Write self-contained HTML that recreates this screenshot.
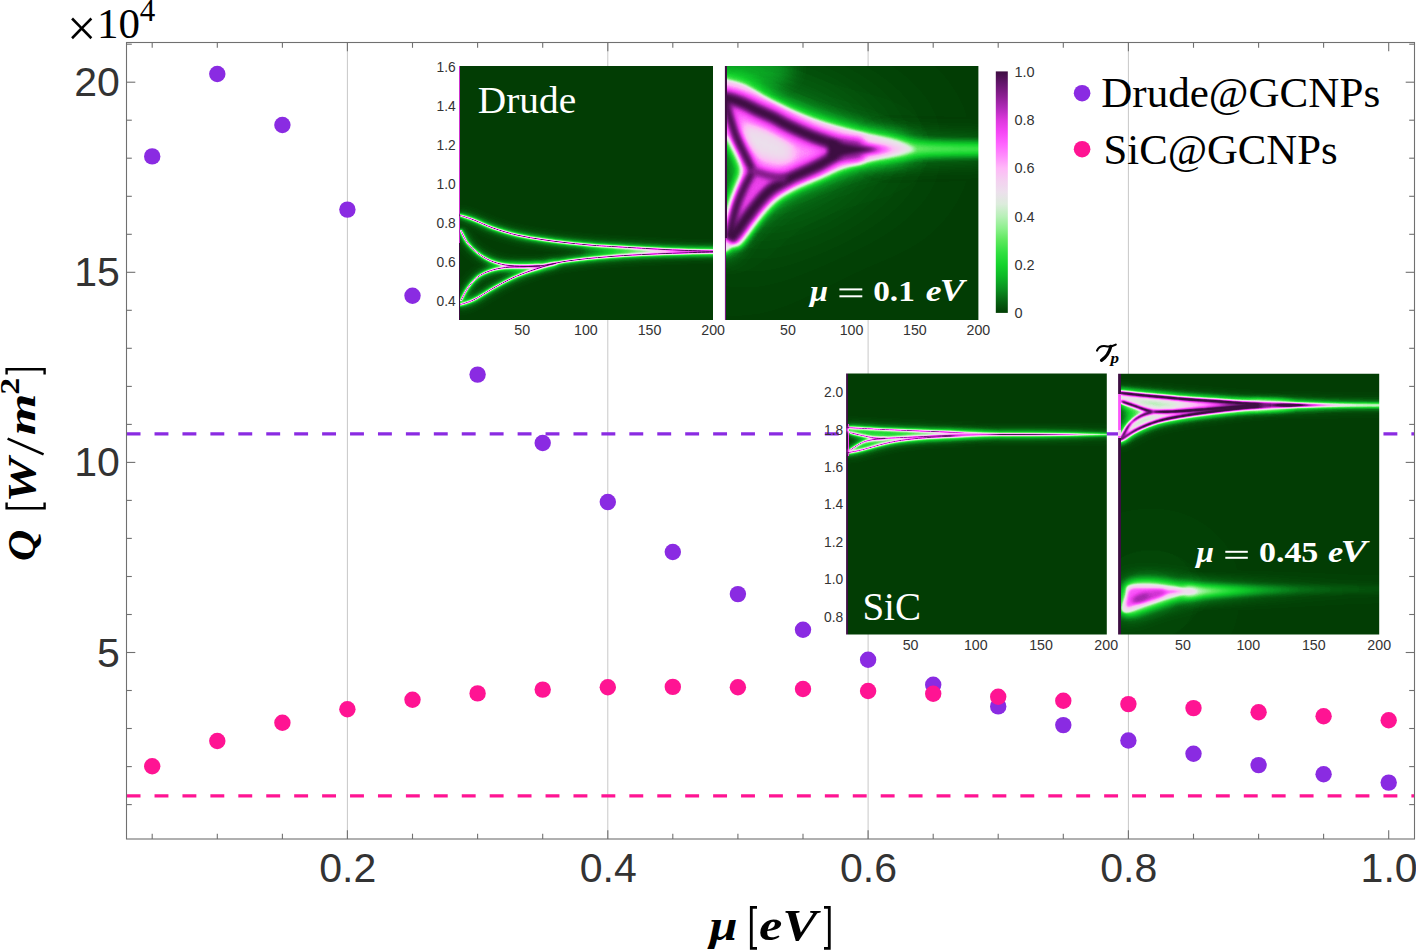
<!DOCTYPE html><html><head><meta charset="utf-8"><style>html,body{margin:0;padding:0;background:#fff;overflow:hidden}svg{display:block}.ts{font-family:"Liberation Sans",sans-serif;fill:#333}.sf{font-family:"Liberation Serif",serif}</style></head><body>
<svg width="1416" height="951" viewBox="0 0 1416 951">
<rect width="1416" height="951" fill="#fff"/>
<g stroke="#c8c8c8" stroke-width="1">
<line x1="347.4" y1="42.5" x2="347.4" y2="839.0"/>
<line x1="607.8" y1="42.5" x2="607.8" y2="839.0"/>
<line x1="868.1" y1="42.5" x2="868.1" y2="839.0"/>
<line x1="1128.4" y1="42.5" x2="1128.4" y2="839.0"/>
</g>
<line x1="126.6" y1="433.9" x2="1414.5" y2="433.9" stroke="#8a2be2" stroke-width="3.3" stroke-dasharray="13.9 14.03"/>
<line x1="126.6" y1="795.8" x2="1414.5" y2="795.8" stroke="#ff1493" stroke-width="3.3" stroke-dasharray="13.9 14.03"/>
<defs>
<filter id="cm" x="0" y="0" width="1" height="1" color-interpolation-filters="sRGB"><feComponentTransfer><feFuncR type="table" tableValues="0.008 0.024 0.039 0.047 0.078 0.188 0.361 0.549 0.722 0.863 0.925 0.957 1.000 1.000 1.000 0.961 0.863 0.690 0.541 0.392 0.243"/><feFuncG type="table" tableValues="0.243 0.392 0.569 0.722 0.831 0.878 0.910 0.941 0.941 0.925 0.878 0.816 0.722 0.549 0.392 0.275 0.220 0.165 0.118 0.086 0.055"/><feFuncB type="table" tableValues="0.016 0.071 0.125 0.149 0.173 0.251 0.361 0.549 0.722 0.863 0.925 0.941 0.973 0.988 1.000 0.961 0.863 0.722 0.565 0.424 0.259"/></feComponentTransfer></filter>
<filter id="ln" filterUnits="userSpaceOnUse" x="400" y="0" width="1016" height="700" color-interpolation-filters="sRGB"><feGaussianBlur in="SourceGraphic" stdDeviation="0.6" result="b0"/><feGaussianBlur in="SourceGraphic" stdDeviation="1.2" result="b1"/><feGaussianBlur in="SourceGraphic" stdDeviation="2.5" result="b2"/><feGaussianBlur in="SourceGraphic" stdDeviation="5.0" result="b3"/><feComposite in="b0" in2="b1" operator="arithmetic" k2="0.471" k3="1.1" result="s1"/><feComposite in="s1" in2="b2" operator="arithmetic" k2="1" k3="0.73" result="s2"/><feComposite in="s2" in2="b3" operator="arithmetic" k2="1" k3="0.798" result="s3"/></filter>
<filter id="rg" filterUnits="userSpaceOnUse" x="400" y="0" width="1016" height="700" color-interpolation-filters="sRGB"><feGaussianBlur in="SourceGraphic" stdDeviation="6" result="b0"/><feGaussianBlur in="SourceGraphic" stdDeviation="12" result="b1"/><feGaussianBlur in="SourceGraphic" stdDeviation="24" result="b2"/><feComposite in="b0" in2="b1" operator="arithmetic" k2="2.054" k3="1.067" result="s1"/><feComposite in="s1" in2="b2" operator="arithmetic" k2="1" k3="0.767" result="s2"/></filter>
<filter id="glow" filterUnits="userSpaceOnUse" x="400" y="0" width="1016" height="700" color-interpolation-filters="sRGB"><feGaussianBlur in="SourceGraphic" stdDeviation="1.5" result="b0"/><feGaussianBlur in="SourceGraphic" stdDeviation="4" result="b1"/><feGaussianBlur in="SourceGraphic" stdDeviation="10" result="b2"/><feGaussianBlur in="SourceGraphic" stdDeviation="25" result="b3"/><feGaussianBlur in="SourceGraphic" stdDeviation="50" result="b4"/><feComposite in="b0" in2="b1" operator="arithmetic" k2="0.165" k3="0.272" result="s1"/><feComposite in="s1" in2="b2" operator="arithmetic" k2="1" k3="0.368" result="s2"/><feComposite in="s2" in2="b3" operator="arithmetic" k2="1" k3="0.045" result="s3"/><feComposite in="s3" in2="b4" operator="arithmetic" k2="1" k3="0.14" result="s4"/></filter>
<filter id="rg4" filterUnits="userSpaceOnUse" x="400" y="0" width="1016" height="700" color-interpolation-filters="sRGB"><feGaussianBlur in="SourceGraphic" stdDeviation="3" result="b0"/><feGaussianBlur in="SourceGraphic" stdDeviation="6" result="b1"/><feGaussianBlur in="SourceGraphic" stdDeviation="12" result="b2"/><feComposite in="b0" in2="b1" operator="arithmetic" k2="2.127" k3="0.665" result="s1"/><feComposite in="s1" in2="b2" operator="arithmetic" k2="1" k3="0.874" result="s2"/></filter>
<filter id="rg5" filterUnits="userSpaceOnUse" x="400" y="0" width="1016" height="700" color-interpolation-filters="sRGB"><feGaussianBlur in="SourceGraphic" stdDeviation="1" result="b0"/><feGaussianBlur in="SourceGraphic" stdDeviation="2" result="b1"/><feGaussianBlur in="SourceGraphic" stdDeviation="3" result="b2"/><feGaussianBlur in="SourceGraphic" stdDeviation="8" result="b3"/><feComposite in="b0" in2="b1" operator="arithmetic" k2="0.1" k3="0.78" result="s1"/><feComposite in="s1" in2="b2" operator="arithmetic" k2="1" k3="2.93" result="s2"/><feComposite in="s2" in2="b3" operator="arithmetic" k2="1" k3="1.9" result="s3"/></filter>
<filter id="rg6" filterUnits="userSpaceOnUse" x="400" y="0" width="1016" height="700" color-interpolation-filters="sRGB"><feGaussianBlur in="SourceGraphic" stdDeviation="1.8" result="b0"/><feGaussianBlur in="SourceGraphic" stdDeviation="3" result="b1"/><feGaussianBlur in="SourceGraphic" stdDeviation="6" result="b2"/><feComposite in="b0" in2="b1" operator="arithmetic" k2="2.969" k3="1.995" result="s1"/><feComposite in="s1" in2="b2" operator="arithmetic" k2="1" k3="1.1" result="s2"/></filter>
<filter id="g0_5" filterUnits="userSpaceOnUse" x="400" y="0" width="1016" height="700" color-interpolation-filters="sRGB"><feGaussianBlur stdDeviation="0.5"/></filter>
<filter id="g1" filterUnits="userSpaceOnUse" x="400" y="0" width="1016" height="700" color-interpolation-filters="sRGB"><feGaussianBlur stdDeviation="1"/></filter>
<filter id="g1_5" filterUnits="userSpaceOnUse" x="400" y="0" width="1016" height="700" color-interpolation-filters="sRGB"><feGaussianBlur stdDeviation="1.5"/></filter>
<filter id="g2" filterUnits="userSpaceOnUse" x="400" y="0" width="1016" height="700" color-interpolation-filters="sRGB"><feGaussianBlur stdDeviation="2"/></filter>
<filter id="g2_5" filterUnits="userSpaceOnUse" x="400" y="0" width="1016" height="700" color-interpolation-filters="sRGB"><feGaussianBlur stdDeviation="2.5"/></filter>
<filter id="g3" filterUnits="userSpaceOnUse" x="400" y="0" width="1016" height="700" color-interpolation-filters="sRGB"><feGaussianBlur stdDeviation="3"/></filter>
<filter id="g4" filterUnits="userSpaceOnUse" x="400" y="0" width="1016" height="700" color-interpolation-filters="sRGB"><feGaussianBlur stdDeviation="4"/></filter>
<filter id="g5" filterUnits="userSpaceOnUse" x="400" y="0" width="1016" height="700" color-interpolation-filters="sRGB"><feGaussianBlur stdDeviation="5"/></filter>
<filter id="g6" filterUnits="userSpaceOnUse" x="400" y="0" width="1016" height="700" color-interpolation-filters="sRGB"><feGaussianBlur stdDeviation="6"/></filter>
<filter id="g8" filterUnits="userSpaceOnUse" x="400" y="0" width="1016" height="700" color-interpolation-filters="sRGB"><feGaussianBlur stdDeviation="8"/></filter>
<filter id="g10" filterUnits="userSpaceOnUse" x="400" y="0" width="1016" height="700" color-interpolation-filters="sRGB"><feGaussianBlur stdDeviation="10"/></filter>
<filter id="g12" filterUnits="userSpaceOnUse" x="400" y="0" width="1016" height="700" color-interpolation-filters="sRGB"><feGaussianBlur stdDeviation="12"/></filter>
<filter id="g14" filterUnits="userSpaceOnUse" x="400" y="0" width="1016" height="700" color-interpolation-filters="sRGB"><feGaussianBlur stdDeviation="14"/></filter>
<filter id="g18" filterUnits="userSpaceOnUse" x="400" y="0" width="1016" height="700" color-interpolation-filters="sRGB"><feGaussianBlur stdDeviation="18"/></filter>
<filter id="g24" filterUnits="userSpaceOnUse" x="400" y="0" width="1016" height="700" color-interpolation-filters="sRGB"><feGaussianBlur stdDeviation="24"/></filter>
<linearGradient id="cbg" x1="0" y1="1" x2="0" y2="0"><stop offset="0.00" stop-color="rgb(2,62,4)"/><stop offset="0.05" stop-color="rgb(6,100,18)"/><stop offset="0.10" stop-color="rgb(10,145,32)"/><stop offset="0.15" stop-color="rgb(12,184,38)"/><stop offset="0.20" stop-color="rgb(20,212,44)"/><stop offset="0.25" stop-color="rgb(48,224,64)"/><stop offset="0.30" stop-color="rgb(92,232,92)"/><stop offset="0.35" stop-color="rgb(140,240,140)"/><stop offset="0.40" stop-color="rgb(184,240,184)"/><stop offset="0.45" stop-color="rgb(220,236,220)"/><stop offset="0.50" stop-color="rgb(236,224,236)"/><stop offset="0.55" stop-color="rgb(244,208,240)"/><stop offset="0.60" stop-color="rgb(255,184,248)"/><stop offset="0.65" stop-color="rgb(255,140,252)"/><stop offset="0.70" stop-color="rgb(255,100,255)"/><stop offset="0.75" stop-color="rgb(245,70,245)"/><stop offset="0.80" stop-color="rgb(220,56,220)"/><stop offset="0.85" stop-color="rgb(176,42,184)"/><stop offset="0.90" stop-color="rgb(138,30,144)"/><stop offset="0.95" stop-color="rgb(100,22,108)"/><stop offset="1.00" stop-color="rgb(62,14,66)"/></linearGradient>
<clipPath id="cp1"><rect x="459.0" y="65.9" width="254.1" height="254.2"/></clipPath>
<clipPath id="cp2"><rect x="724.9" y="65.9" width="253.5" height="254.1"/></clipPath>
<clipPath id="cp3"><rect x="846.1" y="373.5" width="260.7" height="260.9"/></clipPath>
<clipPath id="cp4"><rect x="1118.1" y="373.8" width="261.1" height="260.6"/></clipPath>
</defs>
<g clip-path="url(#cp1)"><g filter="url(#cm)"><rect x="458.0" y="64.9" width="256.1" height="256.2" fill="#000"/>
<rect x="458" y="60" width="2" height="183" fill="rgb(209,209,209)"/>
<rect x="458" y="243" width="2" height="80" fill="rgb(255,255,255)"/>
<linearGradient id="p1f" gradientUnits="userSpaceOnUse" x1="540" y1="0" x2="713" y2="0"><stop offset="0.000" stop-color="#fff" stop-opacity="0.0"/><stop offset="0.220" stop-color="#fff" stop-opacity="0.0"/><stop offset="0.405" stop-color="#fff" stop-opacity="0.1"/><stop offset="0.578" stop-color="#fff" stop-opacity="0.2"/><stop offset="0.723" stop-color="#fff" stop-opacity="0.36"/><stop offset="0.867" stop-color="#fff" stop-opacity="0.55"/><stop offset="1.000" stop-color="#fff" stop-opacity="0.75"/></linearGradient>
<path d="M543.0,239.7 C547.3,240.2 560.5,242.1 569.0,243.0 C577.5,243.9 586.3,244.8 594.0,245.4 C601.7,246.0 605.7,246.1 615.0,246.7 C624.3,247.2 639.2,248.1 650.0,248.7 C660.8,249.3 669.5,249.8 680.0,250.2 C690.5,250.6 704.7,251.1 713.0,251.3 C721.3,251.5 727.2,251.6 730.0,251.6 L730.0,251.8 C727.2,251.8 721.3,251.8 713.0,252.0 C704.7,252.2 690.5,252.6 680.0,253.0 C669.5,253.4 660.8,253.7 650.0,254.2 C639.2,254.7 626.5,255.3 615.0,256.2 C603.5,257.1 590.8,258.1 581.0,259.3 C571.2,260.5 560.2,262.5 556.0,263.1Z" fill="url(#p1f)" filter="url(#g1)"/>
<path d="M459.0,215.0 C461.5,215.8 468.3,217.8 474.0,220.0 C479.7,222.2 485.7,225.4 493.0,228.0 C500.3,230.6 509.7,233.4 518.0,235.3 C526.3,237.2 534.5,238.4 543.0,239.7 C551.5,241.0 560.5,242.1 569.0,243.0 C577.5,243.9 586.3,244.8 594.0,245.4 C601.7,246.0 605.7,246.1 615.0,246.7 C624.3,247.2 639.2,248.1 650.0,248.7 C660.8,249.3 669.5,249.8 680.0,250.2 C690.5,250.6 704.7,251.1 713.0,251.3 C721.3,251.5 727.2,251.6 730.0,251.6" fill="none" stroke="rgb(255,255,255)" stroke-width="0.98" filter="url(#ln)"/>
<path d="M459.0,305.0 C461.5,304.1 468.3,302.5 474.0,299.7 C479.7,296.9 486.7,291.9 493.0,288.3 C499.3,284.7 505.7,281.1 512.0,278.2 C518.3,275.3 523.7,273.2 531.0,270.7 C538.3,268.2 547.7,265.0 556.0,263.1 C564.3,261.2 571.2,260.5 581.0,259.3 C590.8,258.1 603.5,257.1 615.0,256.2 C626.5,255.3 639.2,254.7 650.0,254.2 C660.8,253.7 669.5,253.4 680.0,253.0 C690.5,252.6 704.7,252.2 713.0,252.0 C721.3,251.8 727.2,251.8 730.0,251.8" fill="none" stroke="rgb(255,255,255)" stroke-width="0.98" filter="url(#ln)"/>
<path d="M460.5,230.0 C461.7,232.2 464.7,239.2 467.6,243.0 C470.5,246.8 473.9,250.1 477.7,253.0 C481.5,255.9 485.7,258.6 490.3,260.6 C494.9,262.6 499.9,264.1 505.5,265.0 C511.1,265.9 518.2,266.2 524.0,266.3 C529.8,266.4 534.7,266.3 540.0,265.8 C545.3,265.3 553.3,263.7 556.0,263.3" fill="none" stroke="rgb(255,255,255)" stroke-width="0.98" filter="url(#ln)"/>
<path d="M460.7,301.0 C461.9,298.9 464.8,292.3 467.6,288.3 C470.4,284.3 473.9,279.9 477.7,277.0 C481.5,274.1 485.7,272.3 490.3,270.7 C494.9,269.1 499.9,268.2 505.5,267.5 C511.1,266.8 518.2,266.9 524.0,266.7 C529.8,266.4 537.3,266.1 540.0,266.0" fill="none" stroke="rgb(255,255,255)" stroke-width="0.98" filter="url(#ln)"/>
</g></g>
<g clip-path="url(#cp2)"><g filter="url(#cm)"><rect x="723.9" y="64.9" width="255.5" height="256.1" fill="#000"/>
<path d="M718.0,81.0 C719.9,73.1 725.1,80.9 729.4,81.7 C733.7,82.5 739.1,83.9 744.0,86.1 C748.9,88.3 753.9,92.0 758.8,94.9 C763.7,97.8 768.3,100.9 773.5,103.7 C778.7,106.5 783.1,108.6 790.0,111.5 C796.9,114.4 806.6,118.2 815.0,121.0 C823.4,123.8 832.2,126.2 840.5,128.5 C848.8,130.8 856.8,132.7 865.0,134.5 C873.2,136.3 883.5,137.9 890.0,139.5 C896.5,141.1 900.0,142.4 904.0,144.0 C908.0,145.6 912.3,148.0 914.0,149.0 C915.7,150.0 915.7,149.3 914.0,150.0 C912.3,150.7 908.0,152.0 904.0,153.0 C900.0,154.0 896.5,154.9 890.0,156.2 C883.5,157.5 873.2,159.2 865.0,161.0 C856.8,162.8 848.0,164.7 840.5,167.1 C833.0,169.5 827.3,172.5 820.0,175.2 C812.7,177.9 803.8,180.2 796.8,183.4 C789.8,186.6 784.2,189.8 777.9,194.2 C771.6,198.6 764.7,204.4 758.9,210.0 C753.1,215.6 747.3,222.5 743.0,228.0 C738.7,233.5 735.7,239.3 733.0,243.0 C730.3,246.7 729.5,248.5 727.0,250.0 C724.5,251.5 719.5,255.3 718.0,252.0 C716.5,248.7 716.5,233.8 718.0,230.0 C719.5,226.2 724.8,231.3 727.0,229.0 C729.2,226.7 729.7,220.7 731.0,216.0 C732.3,211.3 733.5,206.0 735.0,201.0 C736.5,196.0 738.5,190.8 740.0,186.0 C741.5,181.2 743.8,176.7 744.0,172.0 C744.2,167.3 742.8,162.3 741.5,158.0 C740.2,153.7 737.9,149.7 736.0,146.0 C734.1,142.3 733.0,138.8 730.0,136.0 C727.0,133.2 720.0,138.2 718.0,129.0 C716.0,119.8 716.1,88.9 718.0,81.0Z" fill="#fff" filter="url(#glow)"/>
<ellipse cx="750" cy="70" rx="45" ry="16" fill="#fff" fill-opacity="0.1" filter="url(#g10)"/>
<path d="M880,142 C920,144.5 950,145 990,145 L990,153 C950,153 920,153 880,156Z" fill="rgb(82,82,82)" filter="url(#g4)"/>
<path d="M880,143 C920,146 950,146 990,146 L990,152 C950,152 920,152 880,155Z" fill="rgb(76,76,76)" filter="url(#g12)"/>
<path d="M890,144 C920,146 950,146 990,146 L990,152 C950,152 920,152 890,154Z" fill="#fff" fill-opacity="0.12" filter="url(#g6)"/>
<path d="M718.0,81.0 C719.9,73.1 725.1,80.9 729.4,81.7 C733.7,82.5 739.1,83.9 744.0,86.1 C748.9,88.3 753.9,92.0 758.8,94.9 C763.7,97.8 768.3,100.9 773.5,103.7 C778.7,106.5 783.1,108.6 790.0,111.5 C796.9,114.4 806.6,118.2 815.0,121.0 C823.4,123.8 832.2,126.2 840.5,128.5 C848.8,130.8 856.8,132.7 865.0,134.5 C873.2,136.3 883.5,137.9 890.0,139.5 C896.5,141.1 900.0,142.4 904.0,144.0 C908.0,145.6 912.3,148.0 914.0,149.0 C915.7,150.0 915.7,149.3 914.0,150.0 C912.3,150.7 908.0,152.0 904.0,153.0 C900.0,154.0 896.5,154.9 890.0,156.2 C883.5,157.5 873.2,159.2 865.0,161.0 C856.8,162.8 848.0,164.7 840.5,167.1 C833.0,169.5 827.3,172.5 820.0,175.2 C812.7,177.9 803.8,180.2 796.8,183.4 C789.8,186.6 784.2,189.8 777.9,194.2 C771.6,198.6 764.7,204.4 758.9,210.0 C753.1,215.6 747.3,222.5 743.0,228.0 C738.7,233.5 735.7,239.3 733.0,243.0 C730.3,246.7 729.5,248.5 727.0,250.0 C724.5,251.5 719.5,255.3 718.0,252.0 C716.5,248.7 716.5,233.8 718.0,230.0 C719.5,226.2 724.8,231.3 727.0,229.0 C729.2,226.7 729.7,220.7 731.0,216.0 C732.3,211.3 733.5,206.0 735.0,201.0 C736.5,196.0 738.5,190.8 740.0,186.0 C741.5,181.2 743.8,176.7 744.0,172.0 C744.2,167.3 742.8,162.3 741.5,158.0 C740.2,153.7 737.9,149.7 736.0,146.0 C734.1,142.3 733.0,138.8 730.0,136.0 C727.0,133.2 720.0,138.2 718.0,129.0 C716.0,119.8 716.1,88.9 718.0,81.0Z" fill="rgb(128,128,128)" filter="url(#g2)"/>
<path d="M718.0,97.0 C719.2,97.3 725.1,97.5 729.4,98.6 C733.7,99.7 739.1,101.6 744.0,103.7 C748.9,105.8 753.9,108.8 758.8,111.1 C763.7,113.4 768.3,115.1 773.5,117.7 C778.7,120.3 783.1,123.2 790.0,126.5 C796.9,129.8 806.7,134.3 815.0,137.5 C823.3,140.7 832.2,143.5 840.0,145.5 C847.8,147.5 858.3,148.8 862.0,149.5 C865.7,150.2 865.7,149.2 862.0,150.0 C858.3,150.8 847.0,151.6 840.0,154.0 C833.0,156.4 825.1,161.9 820.0,164.5 C814.9,167.1 814.3,167.2 809.4,169.5 C804.5,171.8 796.8,174.8 790.5,178.0 C784.2,181.2 772.2,188.8 771.5,189.0 C770.8,189.2 786.2,181.2 786.0,179.0 C785.8,176.8 775.5,177.3 770.0,176.0 C764.5,174.7 755.8,171.8 753.0,171.0 C750.2,170.2 754.4,173.8 753.0,171.0 C751.6,168.2 747.3,159.8 744.5,154.0 C741.7,148.2 738.4,142.0 736.0,136.0 C733.6,130.0 731.7,123.3 730.0,118.0 C728.3,112.7 727.3,107.5 726.0,104.0 C724.7,100.5 723.3,98.2 722.0,97.0 C720.7,95.8 716.8,96.7 718.0,97.0Z" fill="rgb(168,168,168)" filter="url(#g5)" />
<path d="M753.0,171.0 C751.5,173.8 746.7,182.3 744.0,188.0 C741.3,193.7 738.9,199.3 737.0,205.0 C735.1,210.7 733.7,216.5 732.5,222.0 C731.3,227.5 728.9,236.5 729.6,238.0 C730.4,239.5 734.1,234.5 737.0,231.0 C739.9,227.5 743.2,222.0 747.0,217.0 C750.8,212.0 755.4,205.7 759.5,201.0 C763.6,196.3 767.1,192.7 771.5,189.0 C775.9,185.3 786.2,181.2 786.0,179.0 C785.8,176.8 775.5,177.3 770.0,176.0 C764.5,174.7 755.8,171.8 753.0,171.0 C750.2,170.2 754.5,168.2 753.0,171.0Z" fill="rgb(194,194,194)" filter="url(#g4)" />
<ellipse cx="765" cy="144" rx="32" ry="14" transform="rotate(24 765 144)" fill="rgb(128,128,128)" filter="url(#g6)"/>
<ellipse cx="743" cy="210" rx="4" ry="12" transform="rotate(30 743 210)" fill="rgb(178,178,178)" filter="url(#g4)"/>
<path d="M718.0,97.0 C719.9,97.3 725.1,97.5 729.4,98.6 C733.7,99.7 739.1,101.6 744.0,103.7 C748.9,105.8 753.9,108.8 758.8,111.1 C763.7,113.4 768.3,115.1 773.5,117.7 C778.7,120.3 783.1,123.2 790.0,126.5 C796.9,129.8 806.7,134.3 815.0,137.5 C823.3,140.7 832.2,143.5 840.0,145.5 C847.8,147.5 858.3,148.8 862.0,149.5" fill="none" stroke="rgb(166,166,166)" stroke-width="24" filter="url(#g3)"/>
<path d="M729.6,240.0 C730.8,238.5 734.1,234.8 737.0,231.0 C739.9,227.2 743.2,222.0 747.0,217.0 C750.8,212.0 755.4,205.7 759.5,201.0 C763.6,196.3 766.3,192.8 771.5,189.0 C776.7,185.2 784.2,181.2 790.5,178.0 C796.8,174.8 804.5,171.8 809.4,169.5 C814.3,167.2 814.9,167.1 820.0,164.5 C825.1,161.9 833.0,156.4 840.0,154.0 C847.0,151.6 858.3,150.7 862.0,150.0" fill="none" stroke="rgb(166,166,166)" stroke-width="16" filter="url(#g3)"/>
<path d="M718.0,97.0 C719.9,97.3 725.1,97.5 729.4,98.6 C733.7,99.7 739.1,101.6 744.0,103.7 C748.9,105.8 753.9,108.8 758.8,111.1 C763.7,113.4 768.3,115.1 773.5,117.7 C778.7,120.3 783.1,123.2 790.0,126.5 C796.9,129.8 806.7,134.3 815.0,137.5 C823.3,140.7 832.2,143.5 840.0,145.5 C847.8,147.5 858.3,148.8 862.0,149.5" fill="none" stroke="rgb(204,204,204)" stroke-width="20" filter="url(#g4)"/>
<path d="M729.6,240.0 C730.8,238.5 734.1,234.8 737.0,231.0 C739.9,227.2 743.2,222.0 747.0,217.0 C750.8,212.0 755.4,205.7 759.5,201.0 C763.6,196.3 766.3,192.8 771.5,189.0 C776.7,185.2 784.2,181.2 790.5,178.0 C796.8,174.8 804.5,171.8 809.4,169.5 C814.3,167.2 814.9,167.1 820.0,164.5 C825.1,161.9 833.0,156.4 840.0,154.0 C847.0,151.6 858.3,150.7 862.0,150.0" fill="none" stroke="rgb(204,204,204)" stroke-width="19" filter="url(#g4)"/>
<path d="M722.0,97.0 C722.7,98.2 724.7,100.5 726.0,104.0 C727.3,107.5 728.3,112.7 730.0,118.0 C731.7,123.3 733.6,130.0 736.0,136.0 C738.4,142.0 741.7,148.2 744.5,154.0 C747.3,159.8 751.6,168.2 753.0,171.0" fill="none" stroke="rgb(204,204,204)" stroke-width="13" filter="url(#g4)"/>
<path d="M753.0,171.0 C751.5,173.8 746.7,182.3 744.0,188.0 C741.3,193.7 738.9,199.3 737.0,205.0 C735.1,210.7 733.7,216.5 732.5,222.0 C731.3,227.5 730.1,235.3 729.6,238.0" fill="none" stroke="rgb(204,204,204)" stroke-width="13" filter="url(#g4)"/>
<path d="M753.0,171.0 C755.8,171.8 764.5,174.7 770.0,176.0 C775.5,177.3 783.3,178.5 786.0,179.0" fill="none" stroke="rgb(204,204,204)" stroke-width="12" filter="url(#g4)"/>
<path d="M718.0,97.0 C719.9,97.3 725.1,97.5 729.4,98.6 C733.7,99.7 739.1,101.6 744.0,103.7 C748.9,105.8 753.9,108.8 758.8,111.1 C763.7,113.4 768.3,115.1 773.5,117.7 C778.7,120.3 783.1,123.2 790.0,126.5 C796.9,129.8 806.7,134.3 815.0,137.5 C823.3,140.7 832.2,143.5 840.0,145.5 C847.8,147.5 858.3,148.8 862.0,149.5" fill="none" stroke="rgb(255,255,255)" stroke-width="11" filter="url(#g2_5)"/>
<path d="M729.6,240.0 C730.8,238.5 734.1,234.8 737.0,231.0 C739.9,227.2 743.2,222.0 747.0,217.0 C750.8,212.0 755.4,205.7 759.5,201.0 C763.6,196.3 766.3,192.8 771.5,189.0 C776.7,185.2 784.2,181.2 790.5,178.0 C796.8,174.8 804.5,171.8 809.4,169.5 C814.3,167.2 814.9,167.1 820.0,164.5 C825.1,161.9 833.0,156.4 840.0,154.0 C847.0,151.6 858.3,150.7 862.0,150.0" fill="none" stroke="rgb(255,255,255)" stroke-width="11" filter="url(#g2_5)"/>
<path d="M722.0,97.0 C722.7,98.2 724.7,100.5 726.0,104.0 C727.3,107.5 728.3,112.7 730.0,118.0 C731.7,123.3 733.6,130.0 736.0,136.0 C738.4,142.0 741.7,148.2 744.5,154.0 C747.3,159.8 751.6,168.2 753.0,171.0" fill="none" stroke="rgb(255,255,255)" stroke-width="7.5" filter="url(#g2_5)"/>
<path d="M753.0,171.0 C751.5,173.8 746.7,182.3 744.0,188.0 C741.3,193.7 738.9,199.3 737.0,205.0 C735.1,210.7 733.7,216.5 732.5,222.0 C731.3,227.5 730.1,235.3 729.6,238.0" fill="none" stroke="rgb(255,255,255)" stroke-width="7.5" filter="url(#g2_5)"/>
<path d="M753.0,171.0 C755.8,171.8 764.5,174.7 770.0,176.0 C775.5,177.3 783.3,178.5 786.0,179.0" fill="none" stroke="rgb(235,235,235)" stroke-width="7" filter="url(#g2_5)"/>
<path d="M860,141 L905,149.5 L860,157Z" fill="rgb(173,173,173)" filter="url(#g3)"/>
<path d="M840,139 L892,149.5 L840,160Z" fill="rgb(209,209,209)" filter="url(#g3)"/>
<path d="M828,140 L880,149.5 L828,159Z" fill="rgb(255,255,255)" filter="url(#g2)"/>
<rect x="724" y="60" width="3" height="178" fill="rgb(255,255,255)"/>
<rect x="724" y="238" width="2" height="90" fill="rgb(235,235,235)"/>
</g></g>
<g clip-path="url(#cp3)"><g filter="url(#cm)"><rect x="845.1" y="372.5" width="262.7" height="262.9" fill="#000"/>
<rect x="845" y="370" width="3.0" height="270" fill="rgb(255,255,255)"/>
<rect x="848" y="424" width="1" height="32" fill="rgb(191,191,191)"/>
<path d="M849.0,427.7 C852.5,427.2 864.0,428.5 870.0,428.8 C876.0,429.1 875.1,429.2 885.2,429.6 C895.3,430.0 917.2,430.9 930.4,431.4 C943.6,431.9 952.7,432.4 964.3,432.8 C975.9,433.2 994.0,433.7 1000.0,434.0 C1006.0,434.3 1007.8,434.2 1000.0,434.4 C992.2,434.6 968.4,434.8 953.0,435.3 C937.6,435.8 919.7,436.8 907.8,437.3 C895.9,437.8 887.4,438.4 881.8,438.5 C876.1,438.6 877.1,438.4 873.9,437.9 C870.7,437.4 866.5,436.5 862.6,435.6 C858.7,434.8 853.0,433.5 850.7,432.8 C848.4,432.1 849.3,432.4 849.0,431.5 C848.7,430.6 845.5,428.1 849.0,427.7Z" fill="rgb(26,26,26)" filter="url(#g1_5)" />
<path d="M849.0,450.5 C849.3,450.0 848.4,451.1 850.7,449.7 C853.0,448.3 858.7,444.1 862.6,442.4 C866.5,440.7 870.1,440.2 873.9,439.5 C877.7,438.8 879.6,438.8 885.2,438.4 C890.9,438.0 896.5,437.8 907.8,437.3 C919.1,436.8 937.6,435.8 953.0,435.3 C968.4,434.8 1001.9,434.2 1000.0,434.4 C998.1,434.6 957.1,435.8 941.7,436.7 C926.3,437.6 917.2,438.4 907.8,439.5 C898.4,440.6 892.7,441.8 885.2,443.5 C877.7,445.2 868.6,448.2 862.6,449.7 C856.6,451.2 851.3,452.4 849.0,452.5 C846.7,452.6 848.7,451.0 849.0,450.5Z" fill="rgb(23,23,23)" filter="url(#g1_5)" />
<linearGradient id="m3g" gradientUnits="userSpaceOnUse" x1="950" y1="0" x2="1000" y2="0"><stop offset="0" stop-color="#fff"/><stop offset="1" stop-color="#000"/></linearGradient>
<mask id="m3" maskUnits="userSpaceOnUse" x="800" y="360" width="340" height="290"><rect x="800" y="360" width="340" height="290" fill="url(#m3g)"/></mask>
<g mask="url(#m3)">
<path d="M846.0,427.5 C846.5,427.5 845.0,427.5 849.0,427.7 C853.0,427.9 864.0,428.5 870.0,428.8 C876.0,429.1 875.1,429.2 885.2,429.6 C895.3,430.0 917.2,430.9 930.4,431.4 C943.6,431.9 952.7,432.4 964.3,432.8 C975.9,433.2 990.7,433.8 1000.0,434.0 C1009.3,434.2 1016.7,434.2 1020.0,434.2" fill="none" stroke="rgb(255,255,255)" stroke-width="0.9" filter="url(#ln)"/>
<path d="M846.0,453.0 C846.5,452.9 846.2,453.1 849.0,452.5 C851.8,451.9 856.6,451.2 862.6,449.7 C868.6,448.2 877.7,445.2 885.2,443.5 C892.7,441.8 898.4,440.6 907.8,439.5 C917.2,438.4 926.3,437.5 941.7,436.7 C957.1,435.9 987.0,435.0 1000.0,434.6 C1013.0,434.2 1016.7,434.5 1020.0,434.5" fill="none" stroke="rgb(255,255,255)" stroke-width="0.9" filter="url(#ln)"/>
<path d="M849.0,431.5 C849.3,431.7 848.4,432.1 850.7,432.8 C853.0,433.5 858.7,434.8 862.6,435.6 C866.5,436.5 870.7,437.4 873.9,437.9 C877.1,438.4 880.5,438.5 881.8,438.6" fill="none" stroke="rgb(255,255,255)" stroke-width="0.9" filter="url(#ln)"/>
<path d="M849.0,450.5 C849.3,450.4 848.4,451.1 850.7,449.7 C853.0,448.3 858.7,444.1 862.6,442.4 C866.5,440.7 870.1,440.2 873.9,439.5 C877.7,438.8 883.3,438.6 885.2,438.4" fill="none" stroke="rgb(255,255,255)" stroke-width="0.9" filter="url(#ln)"/>
<path d="M881.8,438.5 C886.1,438.3 895.9,437.8 907.8,437.3 C919.7,436.8 937.6,435.8 953.0,435.3 C968.4,434.8 988.8,434.5 1000.0,434.4 C1011.2,434.2 1016.7,434.4 1020.0,434.4" fill="none" stroke="rgb(255,255,255)" stroke-width="0.9" filter="url(#ln)"/>
</g>
<linearGradient id="p3g" gradientUnits="userSpaceOnUse" x1="950" y1="0" x2="1107" y2="0"><stop offset="0" stop-color="#fff" stop-opacity="0"/><stop offset="0.318" stop-color="#fff" stop-opacity="0.8"/><stop offset="0.541" stop-color="#fff" stop-opacity="0.77"/><stop offset="0.669" stop-color="#fff" stop-opacity="0.67"/><stop offset="0.764" stop-color="#fff" stop-opacity="0.57"/><stop offset="0.86" stop-color="#fff" stop-opacity="0.42"/><stop offset="0.955" stop-color="#fff" stop-opacity="0.32"/><stop offset="1" stop-color="#fff" stop-opacity="0.29"/></linearGradient>
<path d="M950,434.4 L1115,434.4" stroke="url(#p3g)" stroke-width="1.5" fill="none" filter="url(#ln)"/>
</g></g>
<g clip-path="url(#cp4)"><g filter="url(#cm)"><rect x="1117.1" y="372.8" width="263.1" height="262.6" fill="#000"/>
<path d="M1116.0,392.5 C1117.1,384.7 1118.4,392.7 1122.4,393.1 C1126.4,393.5 1132.8,394.3 1140.0,395.0 C1147.2,395.7 1157.1,396.6 1165.4,397.3 C1173.7,398.1 1181.6,398.9 1190.0,399.5 C1198.4,400.1 1205.9,400.5 1216.0,401.2 C1226.1,401.9 1240.8,403.2 1250.6,403.8 C1260.4,404.4 1266.8,404.6 1275.0,404.8 C1283.2,405.1 1300.0,405.1 1300.0,405.3 C1300.0,405.5 1283.2,405.6 1275.0,405.9 C1266.8,406.2 1260.4,406.3 1250.6,407.2 C1240.8,408.1 1226.7,409.8 1216.0,411.1 C1205.3,412.5 1196.2,413.7 1186.6,415.3 C1177.0,416.9 1166.6,418.6 1158.4,421.0 C1150.2,423.4 1143.2,426.5 1137.2,429.4 C1131.2,432.3 1125.9,436.8 1122.4,438.6 C1118.9,440.4 1117.1,447.7 1116.0,440.0 C1114.9,432.3 1114.9,400.3 1116.0,392.5Z" fill="#fff" fill-opacity="0.09" filter="url(#glow)"/>
<linearGradient id="p4u" gradientUnits="userSpaceOnUse" x1="1125" y1="0" x2="1245" y2="0"><stop offset="0" stop-color="#fff" stop-opacity="0.3"/><stop offset="0.4" stop-color="#fff" stop-opacity="0.33"/><stop offset="0.7" stop-color="#fff" stop-opacity="0.5"/><stop offset="1" stop-color="#fff" stop-opacity="0.8"/></linearGradient>
<path d="M1122.4,393.1 C1125.7,392.1 1132.8,394.3 1140.0,395.0 C1147.2,395.7 1157.1,396.6 1165.4,397.3 C1173.7,398.1 1181.6,398.9 1190.0,399.5 C1198.4,400.1 1205.9,400.5 1216.0,401.2 C1226.1,401.9 1242.9,403.1 1250.6,403.8 C1258.3,404.5 1263.8,405.1 1262.0,405.6 C1260.2,406.1 1247.7,406.1 1240.0,406.6 C1232.3,407.1 1223.7,408.0 1216.0,408.6 C1208.3,409.2 1201.0,409.7 1193.7,410.2 C1186.5,410.7 1179.3,411.3 1172.5,411.6 C1165.7,411.9 1157.1,412.1 1152.7,411.8 C1148.3,411.5 1148.6,410.8 1146.0,410.0 C1143.4,409.2 1141.0,408.2 1137.2,406.8 C1133.4,405.4 1125.9,402.9 1123.0,401.9 C1120.1,400.9 1120.1,402.5 1120.0,401.0 C1119.9,399.5 1119.1,394.1 1122.4,393.1Z" fill="url(#p4u)" filter="url(#g1_5)"/>
<path d="M1120.0,438.0 C1120.0,437.6 1120.7,438.9 1122.4,436.5 C1124.1,434.1 1127.0,427.2 1130.1,423.8 C1133.1,420.4 1136.9,418.0 1140.7,416.0 C1144.5,414.0 1147.4,412.5 1152.7,411.8 C1158.0,411.1 1165.7,411.9 1172.5,411.6 C1179.3,411.3 1186.5,410.7 1193.7,410.2 C1201.0,409.7 1208.3,409.2 1216.0,408.6 C1223.7,408.0 1232.3,407.1 1240.0,406.6 C1247.7,406.1 1260.2,405.5 1262.0,405.6 C1263.8,405.7 1258.3,406.3 1250.6,407.2 C1242.9,408.1 1226.7,409.8 1216.0,411.1 C1205.3,412.5 1196.2,413.7 1186.6,415.3 C1177.0,416.9 1166.6,418.6 1158.4,421.0 C1150.2,423.4 1143.2,426.5 1137.2,429.4 C1131.2,432.3 1125.3,437.2 1122.4,438.6 C1119.5,440.0 1120.0,438.4 1120.0,438.0Z" fill="rgb(76,76,76)" filter="url(#g1_5)" />
<path d="M1126,404 L1150,411.8 L1126,420Z" fill="rgb(41,41,41)" filter="url(#g2_5)"/>
<linearGradient id="m4g" gradientUnits="userSpaceOnUse" x1="1258" y1="0" x2="1298" y2="0"><stop offset="0" stop-color="#fff"/><stop offset="1" stop-color="#000"/></linearGradient>
<mask id="m4" maskUnits="userSpaceOnUse" x="1100" y="360" width="300" height="290"><rect x="1100" y="360" width="300" height="290" fill="url(#m4g)"/></mask>
<g mask="url(#m4)">
<path d="M1116.0,392.5 C1117.1,392.6 1118.4,392.7 1122.4,393.1 C1126.4,393.5 1132.8,394.3 1140.0,395.0 C1147.2,395.7 1157.1,396.6 1165.4,397.3 C1173.7,398.1 1181.6,398.9 1190.0,399.5 C1198.4,400.1 1205.9,400.5 1216.0,401.2 C1226.1,401.9 1240.8,403.2 1250.6,403.8 C1260.4,404.4 1267.1,404.6 1275.0,404.8 C1282.9,405.0 1294.2,405.1 1298.0,405.2" fill="none" stroke="#fff" stroke-width="1" filter="url(#rg6)"/>
<path d="M1116.0,440.0 C1117.1,439.8 1118.9,440.4 1122.4,438.6 C1125.9,436.8 1131.2,432.3 1137.2,429.4 C1143.2,426.5 1150.2,423.4 1158.4,421.0 C1166.6,418.6 1177.0,416.9 1186.6,415.3 C1196.2,413.7 1205.3,412.5 1216.0,411.1 C1226.7,409.8 1240.8,408.1 1250.6,407.2 C1260.4,406.3 1267.1,406.2 1275.0,405.9 C1282.9,405.6 1294.2,405.4 1298.0,405.3" fill="none" stroke="#fff" stroke-width="1" filter="url(#rg6)"/>
<path d="M1120.0,401.0 C1120.5,401.1 1120.1,400.9 1123.0,401.9 C1125.9,402.9 1133.4,405.4 1137.2,406.8 C1141.0,408.2 1143.4,409.2 1146.0,410.0 C1148.6,410.8 1151.6,411.5 1152.7,411.8" fill="none" stroke="#fff" stroke-width="1" filter="url(#rg6)"/>
<path d="M1120.0,438.0 C1120.4,437.8 1120.7,438.9 1122.4,436.5 C1124.1,434.1 1127.0,427.2 1130.1,423.8 C1133.1,420.4 1136.9,418.0 1140.7,416.0 C1144.5,414.0 1150.7,412.5 1152.7,411.8" fill="none" stroke="#fff" stroke-width="1" filter="url(#rg6)"/>
<path d="M1152.7,411.8 C1156.0,411.8 1165.7,411.9 1172.5,411.6 C1179.3,411.3 1186.5,410.7 1193.7,410.2 C1201.0,409.7 1208.3,409.2 1216.0,408.6 C1223.7,408.0 1232.3,407.1 1240.0,406.6 C1247.7,406.1 1254.5,405.8 1262.0,405.6 C1269.5,405.4 1281.2,405.4 1285.0,405.3" fill="none" stroke="#fff" stroke-width="1" filter="url(#rg6)"/>
</g>
<linearGradient id="p4g" gradientUnits="userSpaceOnUse" x1="1240" y1="0" x2="1379" y2="0"><stop offset="0" stop-color="#fff" stop-opacity="0"/><stop offset="0.16" stop-color="#fff" stop-opacity="0.35"/><stop offset="0.3" stop-color="#fff" stop-opacity="0.9"/><stop offset="0.36" stop-color="#fff" stop-opacity="0.92"/><stop offset="0.43" stop-color="#fff" stop-opacity="0.78"/><stop offset="0.5" stop-color="#fff" stop-opacity="0.64"/><stop offset="0.59" stop-color="#fff" stop-opacity="0.5"/><stop offset="0.72" stop-color="#fff" stop-opacity="0.38"/><stop offset="0.86" stop-color="#fff" stop-opacity="0.32"/><stop offset="1" stop-color="#fff" stop-opacity="0.3"/></linearGradient>
<path d="M1240,405.2 L1390,405.3" stroke="url(#p4g)" stroke-width="1.3" fill="none" filter="url(#rg6)"/>
<path d="M1128.4,586.2 C1131.7,584.6 1140.1,584.9 1147.1,585.0 C1154.1,585.1 1163.9,586.3 1170.4,587.0 C1176.9,587.7 1181.6,588.5 1186.0,589.2 C1190.4,589.9 1197.0,590.7 1197.0,591.4 C1197.0,592.1 1190.4,592.7 1186.0,593.6 C1181.6,594.5 1175.6,595.6 1170.4,597.0 C1165.2,598.4 1160.1,600.1 1154.9,601.8 C1149.7,603.5 1143.8,605.5 1139.3,607.2 C1134.8,608.9 1130.5,611.5 1127.7,612.0 C1124.9,612.5 1123.2,611.8 1122.5,610.5 C1121.8,609.2 1122.5,606.8 1123.3,604.2 C1124.1,601.6 1126.3,597.9 1127.2,594.9 C1128.1,591.9 1125.1,587.9 1128.4,586.2Z" fill="#fff" filter="url(#glow)"/>
<path d="M1128.4,586.2 C1131.7,584.6 1140.1,584.9 1147.1,585.0 C1154.1,585.1 1163.9,586.3 1170.4,587.0 C1176.9,587.7 1181.6,588.5 1186.0,589.2 C1190.4,589.9 1197.0,590.7 1197.0,591.4 C1197.0,592.1 1190.4,592.7 1186.0,593.6 C1181.6,594.5 1175.6,595.6 1170.4,597.0 C1165.2,598.4 1160.1,600.1 1154.9,601.8 C1149.7,603.5 1143.8,605.5 1139.3,607.2 C1134.8,608.9 1130.5,611.5 1127.7,612.0 C1124.9,612.5 1123.2,611.8 1122.5,610.5 C1121.8,609.2 1122.5,606.8 1123.3,604.2 C1124.1,601.6 1126.3,597.9 1127.2,594.9 C1128.1,591.9 1125.1,587.9 1128.4,586.2Z" fill="#fff" fill-opacity="0.3" filter="url(#g6)"/>
<linearGradient id="p4t" gradientUnits="userSpaceOnUse" x1="1190" y1="0" x2="1380" y2="0"><stop offset="0" stop-color="#fff" stop-opacity="0.38"/><stop offset="0.105" stop-color="#fff" stop-opacity="0.3"/><stop offset="0.21" stop-color="#fff" stop-opacity="0.22"/><stop offset="0.368" stop-color="#fff" stop-opacity="0.14"/><stop offset="0.579" stop-color="#fff" stop-opacity="0.08"/><stop offset="0.789" stop-color="#fff" stop-opacity="0.05"/><stop offset="1" stop-color="#fff" stop-opacity="0.04"/></linearGradient>
<path d="M1185,587 C1250,587 1300,587 1390,587 L1390,591.5 C1300,591.5 1250,593 1185,596Z" fill="url(#p4t)" filter="url(#g3)"/>
<path d="M1185,587 C1250,587 1300,587 1390,587 L1390,591.5 C1300,591.5 1250,593 1185,596Z" fill="url(#p4t)" filter="url(#g8)"/>
<path d="M1128.4,586.2 C1131.7,584.6 1140.1,584.9 1147.1,585.0 C1154.1,585.1 1163.9,586.3 1170.4,587.0 C1176.9,587.7 1181.6,588.5 1186.0,589.2 C1190.4,589.9 1197.0,590.7 1197.0,591.4 C1197.0,592.1 1190.4,592.7 1186.0,593.6 C1181.6,594.5 1175.6,595.6 1170.4,597.0 C1165.2,598.4 1160.1,600.1 1154.9,601.8 C1149.7,603.5 1143.8,605.5 1139.3,607.2 C1134.8,608.9 1130.5,611.5 1127.7,612.0 C1124.9,612.5 1123.2,611.8 1122.5,610.5 C1121.8,609.2 1122.5,606.8 1123.3,604.2 C1124.1,601.6 1126.3,597.9 1127.2,594.9 C1128.1,591.9 1125.1,587.9 1128.4,586.2Z" fill="rgb(128,128,128)" filter="url(#g1)"/>
<path d="M1130.5,589.0 C1133.8,587.3 1140.8,587.9 1147.1,588.0 C1153.3,588.1 1161.8,589.2 1168.0,589.8 C1174.2,590.3 1184.0,590.6 1184.0,591.3 C1184.0,592.0 1172.8,593.1 1168.0,594.2 C1163.2,595.4 1159.7,596.7 1154.9,598.2 C1150.1,599.7 1143.7,601.7 1139.3,603.2 C1134.9,604.8 1130.7,607.2 1128.5,607.5 C1126.3,607.8 1126.2,606.6 1126.0,605.0 C1125.8,603.4 1126.2,600.7 1127.0,598.0 C1127.8,595.3 1127.2,590.7 1130.5,589.0Z" fill="rgb(184,184,184)" filter="url(#g1_5)"/>
<ellipse cx="1148" cy="596" rx="18" ry="4.5" transform="rotate(-14 1148 596)" fill="rgb(209,209,209)" filter="url(#g2)"/>
<ellipse cx="1141" cy="598" rx="9" ry="3.5" transform="rotate(-22 1141 598)" fill="rgb(222,222,222)" filter="url(#g2)"/>
<rect x="1117" y="370" width="4" height="270" fill="rgb(255,255,255)"/>
<rect x="1118" y="394" width="3" height="44" fill="rgb(184,184,184)"/>
<rect x="1118" y="430" width="3" height="6" fill="rgb(140,140,140)"/>
</g></g>
<rect x="995.8" y="71.4" width="12" height="241.5" fill="url(#cbg)"/>
<g font-family="Liberation Sans, sans-serif" fill="#333" font-size="13.8" text-anchor="end">
<text x="455.8" y="71.8">1.6</text>
<text x="455.8" y="110.9">1.4</text>
<text x="455.8" y="150.0">1.2</text>
<text x="455.8" y="189.1">1.0</text>
<text x="455.8" y="228.1">0.8</text>
<text x="455.8" y="267.2">0.6</text>
<text x="455.8" y="306.4">0.4</text>
<text x="843.2" y="397.1">2.0</text>
<text x="843.2" y="434.5">1.8</text>
<text x="843.2" y="471.9">1.6</text>
<text x="843.2" y="509.3">1.4</text>
<text x="843.2" y="546.8">1.2</text>
<text x="843.2" y="584.2">1.0</text>
<text x="843.2" y="621.6">0.8</text>
</g>
<g font-family="Liberation Sans, sans-serif" fill="#333" font-size="14.2" text-anchor="middle">
<text x="522.2" y="335.2">50</text>
<text x="788.0" y="335.2">50</text>
<text x="910.6" y="649.5">50</text>
<text x="1182.9" y="649.5">50</text>
<text x="585.9" y="335.2">100</text>
<text x="851.5" y="335.2">100</text>
<text x="975.8" y="649.5">100</text>
<text x="1248.3" y="649.5">100</text>
<text x="649.5" y="335.2">150</text>
<text x="914.9" y="335.2">150</text>
<text x="1041.0" y="649.5">150</text>
<text x="1313.8" y="649.5">150</text>
<text x="713.1" y="335.2">200</text>
<text x="978.4" y="335.2">200</text>
<text x="1106.2" y="649.5">200</text>
<text x="1379.2" y="649.5">200</text>
</g>
<g font-family="Liberation Sans, sans-serif" fill="#333" font-size="14.5">
<text x="1014.5" y="76.6">1.0</text>
<text x="1014.5" y="124.9">0.8</text>
<text x="1014.5" y="173.2">0.6</text>
<text x="1014.5" y="221.5">0.4</text>
<text x="1014.5" y="269.8">0.2</text>
<text x="1014.5" y="318.1">0</text>
</g>
<text transform="translate(477.86,112.90) scale(1.063,1)" font-family="Liberation Serif, serif" font-size="37" font-weight="normal" font-style="normal" fill="#fff">Drude</text>
<text transform="translate(862.42,619.70) scale(1.0,1)" font-family="Liberation Serif, serif" font-size="39" font-weight="normal" font-style="normal" fill="#fff">SiC</text>
<text transform="translate(810.10,300.50) scale(1.08,1)" font-family="Liberation Serif, serif" font-size="30" font-weight="bold" font-style="italic" fill="#fff">μ</text>
<rect x="839.4" y="288.4" width="22.9" height="2.0" fill="#fff"/><rect x="839.4" y="295.3" width="22.9" height="2.0" fill="#fff"/>
<text transform="translate(873.20,300.50) scale(1.13,1)" font-family="Liberation Serif, serif" font-size="29.5" font-weight="bold" font-style="normal" fill="#fff">0.1</text>
<text transform="translate(925.80,300.50) scale(1.18,1)" font-family="Liberation Serif, serif" font-size="30" font-weight="bold" font-style="italic" fill="#fff">e</text>
<text transform="translate(939.70,300.50) scale(1.2,1)" font-family="Liberation Serif, serif" font-size="31" font-weight="bold" font-style="italic" fill="#fff">V</text>
<text transform="translate(1196.20,562.20) scale(1.06,1)" font-family="Liberation Serif, serif" font-size="30" font-weight="bold" font-style="italic" fill="#fff">μ</text>
<rect x="1225.3" y="550.8" width="22.5" height="2.0" fill="#fff"/><rect x="1225.3" y="556.8" width="22.5" height="2.0" fill="#fff"/>
<text transform="translate(1258.90,562.20) scale(1.133,1)" font-family="Liberation Serif, serif" font-size="30" font-weight="bold" font-style="normal" fill="#fff">0.45</text>
<text transform="translate(1328.00,562.20) scale(1.14,1)" font-family="Liberation Serif, serif" font-size="30" font-weight="bold" font-style="italic" fill="#fff">e</text>
<text transform="translate(1340.50,562.20) scale(1.26,1)" font-family="Liberation Serif, serif" font-size="31.5" font-weight="bold" font-style="italic" fill="#fff">V</text>
<path d="M1097,350.6 C1098.5,347 1102,345.6 1106,346.2 C1109.5,346.8 1112.5,346.4 1115.8,344.6" fill="none" stroke="#000" stroke-width="2.1" stroke-linecap="round"/>
<path d="M1110.8,346.4 C1109.5,352 1106.5,357 1101.5,360.3" fill="none" stroke="#000" stroke-width="3.2" stroke-linecap="round"/>
<text transform="translate(1110.40,362.60) scale(1.1,1)" font-family="Liberation Serif, serif" font-size="15.5" font-weight="bold" font-style="italic" fill="#000">p</text>
<rect x="126.5" y="42.5" width="1288.0" height="796.5" fill="none" stroke="#707070" stroke-width="1.1"/>
<g stroke="#707070" stroke-width="1.1">
<line x1="152.2" y1="839.0" x2="152.2" y2="833.7"/>
<line x1="152.2" y1="42.5" x2="152.2" y2="47.8"/>
<line x1="217.3" y1="839.0" x2="217.3" y2="833.7"/>
<line x1="217.3" y1="42.5" x2="217.3" y2="47.8"/>
<line x1="282.4" y1="839.0" x2="282.4" y2="833.7"/>
<line x1="282.4" y1="42.5" x2="282.4" y2="47.8"/>
<line x1="347.4" y1="839.0" x2="347.4" y2="830.2"/>
<line x1="347.4" y1="42.5" x2="347.4" y2="51.3"/>
<line x1="412.5" y1="839.0" x2="412.5" y2="833.7"/>
<line x1="412.5" y1="42.5" x2="412.5" y2="47.8"/>
<line x1="477.6" y1="839.0" x2="477.6" y2="833.7"/>
<line x1="477.6" y1="42.5" x2="477.6" y2="47.8"/>
<line x1="542.7" y1="839.0" x2="542.7" y2="833.7"/>
<line x1="542.7" y1="42.5" x2="542.7" y2="47.8"/>
<line x1="607.8" y1="839.0" x2="607.8" y2="830.2"/>
<line x1="607.8" y1="42.5" x2="607.8" y2="51.3"/>
<line x1="672.8" y1="839.0" x2="672.8" y2="833.7"/>
<line x1="672.8" y1="42.5" x2="672.8" y2="47.8"/>
<line x1="737.9" y1="839.0" x2="737.9" y2="833.7"/>
<line x1="737.9" y1="42.5" x2="737.9" y2="47.8"/>
<line x1="803.0" y1="839.0" x2="803.0" y2="833.7"/>
<line x1="803.0" y1="42.5" x2="803.0" y2="47.8"/>
<line x1="868.1" y1="839.0" x2="868.1" y2="830.2"/>
<line x1="868.1" y1="42.5" x2="868.1" y2="51.3"/>
<line x1="933.2" y1="839.0" x2="933.2" y2="833.7"/>
<line x1="933.2" y1="42.5" x2="933.2" y2="47.8"/>
<line x1="998.2" y1="839.0" x2="998.2" y2="833.7"/>
<line x1="998.2" y1="42.5" x2="998.2" y2="47.8"/>
<line x1="1063.3" y1="839.0" x2="1063.3" y2="833.7"/>
<line x1="1063.3" y1="42.5" x2="1063.3" y2="47.8"/>
<line x1="1128.4" y1="839.0" x2="1128.4" y2="830.2"/>
<line x1="1128.4" y1="42.5" x2="1128.4" y2="51.3"/>
<line x1="1193.5" y1="839.0" x2="1193.5" y2="833.7"/>
<line x1="1193.5" y1="42.5" x2="1193.5" y2="47.8"/>
<line x1="1258.6" y1="839.0" x2="1258.6" y2="833.7"/>
<line x1="1258.6" y1="42.5" x2="1258.6" y2="47.8"/>
<line x1="1323.6" y1="839.0" x2="1323.6" y2="833.7"/>
<line x1="1323.6" y1="42.5" x2="1323.6" y2="47.8"/>
<line x1="1388.7" y1="839.0" x2="1388.7" y2="830.2"/>
<line x1="1388.7" y1="42.5" x2="1388.7" y2="51.3"/>
<line x1="126.5" y1="804.6" x2="131.8" y2="804.6"/>
<line x1="1414.5" y1="804.6" x2="1409.2" y2="804.6"/>
<line x1="126.5" y1="766.6" x2="131.8" y2="766.6"/>
<line x1="1414.5" y1="766.6" x2="1409.2" y2="766.6"/>
<line x1="126.5" y1="728.5" x2="131.8" y2="728.5"/>
<line x1="1414.5" y1="728.5" x2="1409.2" y2="728.5"/>
<line x1="126.5" y1="690.5" x2="131.8" y2="690.5"/>
<line x1="1414.5" y1="690.5" x2="1409.2" y2="690.5"/>
<line x1="126.5" y1="652.5" x2="135.3" y2="652.5"/>
<line x1="1414.5" y1="652.5" x2="1405.7" y2="652.5"/>
<line x1="126.5" y1="614.5" x2="131.8" y2="614.5"/>
<line x1="1414.5" y1="614.5" x2="1409.2" y2="614.5"/>
<line x1="126.5" y1="576.5" x2="131.8" y2="576.5"/>
<line x1="1414.5" y1="576.5" x2="1409.2" y2="576.5"/>
<line x1="126.5" y1="538.4" x2="131.8" y2="538.4"/>
<line x1="1414.5" y1="538.4" x2="1409.2" y2="538.4"/>
<line x1="126.5" y1="500.4" x2="131.8" y2="500.4"/>
<line x1="1414.5" y1="500.4" x2="1409.2" y2="500.4"/>
<line x1="126.5" y1="462.4" x2="135.3" y2="462.4"/>
<line x1="1414.5" y1="462.4" x2="1405.7" y2="462.4"/>
<line x1="126.5" y1="424.4" x2="131.8" y2="424.4"/>
<line x1="1414.5" y1="424.4" x2="1409.2" y2="424.4"/>
<line x1="126.5" y1="386.4" x2="131.8" y2="386.4"/>
<line x1="1414.5" y1="386.4" x2="1409.2" y2="386.4"/>
<line x1="126.5" y1="348.3" x2="131.8" y2="348.3"/>
<line x1="1414.5" y1="348.3" x2="1409.2" y2="348.3"/>
<line x1="126.5" y1="310.3" x2="131.8" y2="310.3"/>
<line x1="1414.5" y1="310.3" x2="1409.2" y2="310.3"/>
<line x1="126.5" y1="272.3" x2="135.3" y2="272.3"/>
<line x1="1414.5" y1="272.3" x2="1405.7" y2="272.3"/>
<line x1="126.5" y1="234.3" x2="131.8" y2="234.3"/>
<line x1="1414.5" y1="234.3" x2="1409.2" y2="234.3"/>
<line x1="126.5" y1="196.3" x2="131.8" y2="196.3"/>
<line x1="1414.5" y1="196.3" x2="1409.2" y2="196.3"/>
<line x1="126.5" y1="158.2" x2="131.8" y2="158.2"/>
<line x1="1414.5" y1="158.2" x2="1409.2" y2="158.2"/>
<line x1="126.5" y1="120.2" x2="131.8" y2="120.2"/>
<line x1="1414.5" y1="120.2" x2="1409.2" y2="120.2"/>
<line x1="126.5" y1="82.2" x2="135.3" y2="82.2"/>
<line x1="1414.5" y1="82.2" x2="1405.7" y2="82.2"/>
<line x1="126.5" y1="44.2" x2="131.8" y2="44.2"/>
<line x1="1414.5" y1="44.2" x2="1409.2" y2="44.2"/>
</g>
<g class="ts" font-size="41" text-anchor="middle">
<text x="347.8" y="882.4">0.2</text>
<text x="608.2" y="882.4">0.4</text>
<text x="868.5" y="882.4">0.6</text>
<text x="1128.8" y="882.4">0.8</text>
<text x="1389.1" y="882.4">1.0</text>
</g>
<g class="ts" font-size="41" text-anchor="end">
<text x="119.8" y="666.5">5</text>
<text x="119.8" y="476.4">10</text>
<text x="119.8" y="286.3">15</text>
<text x="119.8" y="96.2">20</text>
</g>
<g fill="#8a2be2">
<circle cx="152.2" cy="156.4" r="8.2"/>
<circle cx="217.3" cy="74.0" r="8.2"/>
<circle cx="282.4" cy="125.0" r="8.2"/>
<circle cx="347.4" cy="209.6" r="8.2"/>
<circle cx="412.5" cy="295.8" r="8.2"/>
<circle cx="477.6" cy="374.6" r="8.2"/>
<circle cx="542.7" cy="443.0" r="8.2"/>
<circle cx="607.8" cy="502.0" r="8.2"/>
<circle cx="672.8" cy="552.0" r="8.2"/>
<circle cx="737.9" cy="594.1" r="8.2"/>
<circle cx="803.0" cy="629.7" r="8.2"/>
<circle cx="868.1" cy="659.7" r="8.2"/>
<circle cx="933.2" cy="684.7" r="8.2"/>
<circle cx="998.2" cy="706.4" r="8.2"/>
<circle cx="1063.3" cy="725.1" r="8.2"/>
<circle cx="1128.4" cy="740.5" r="8.2"/>
<circle cx="1193.5" cy="753.8" r="8.2"/>
<circle cx="1258.6" cy="765.1" r="8.2"/>
<circle cx="1323.6" cy="774.3" r="8.2"/>
<circle cx="1388.7" cy="782.6" r="8.2"/>
</g>
<g fill="#ff1493">
<circle cx="152.2" cy="766.3" r="8.2"/>
<circle cx="217.3" cy="741.0" r="8.2"/>
<circle cx="282.4" cy="722.7" r="8.2"/>
<circle cx="347.4" cy="709.3" r="8.2"/>
<circle cx="412.5" cy="699.8" r="8.2"/>
<circle cx="477.6" cy="693.4" r="8.2"/>
<circle cx="542.7" cy="689.6" r="8.2"/>
<circle cx="607.8" cy="687.3" r="8.2"/>
<circle cx="672.8" cy="686.9" r="8.2"/>
<circle cx="737.9" cy="687.3" r="8.2"/>
<circle cx="803.0" cy="689.0" r="8.2"/>
<circle cx="868.1" cy="691.0" r="8.2"/>
<circle cx="933.2" cy="693.8" r="8.2"/>
<circle cx="998.2" cy="696.8" r="8.2"/>
<circle cx="1063.3" cy="700.7" r="8.2"/>
<circle cx="1128.4" cy="704.1" r="8.2"/>
<circle cx="1193.5" cy="708.1" r="8.2"/>
<circle cx="1258.6" cy="712.2" r="8.2"/>
<circle cx="1323.6" cy="716.2" r="8.2"/>
<circle cx="1388.7" cy="720.3" r="8.2"/>
</g>
<circle cx="1082.1" cy="93.2" r="8.3" fill="#8a2be2"/>
<circle cx="1082.1" cy="149.2" r="8.3" fill="#ff1493"/>
<text transform="translate(1101.20,106.50) scale(1.026,1)" font-family="Liberation Serif, serif" font-size="42" font-weight="normal" font-style="normal" fill="#000">Drude@GCNPs</text>
<text transform="translate(1103.50,163.60) scale(1.018,1)" font-family="Liberation Serif, serif" font-size="42" font-weight="normal" font-style="normal" fill="#000">SiC@GCNPs</text>
<text transform="translate(67.00,45.55) scale(1.0,1)" font-family="Liberation Serif, serif" font-size="52" font-weight="normal" font-style="normal" fill="#000">×</text>
<text transform="translate(96.90,38.10) scale(1.0,1)" font-family="Liberation Serif, serif" font-size="43" font-weight="normal" font-style="normal" fill="#000">10</text>
<text transform="translate(139.70,21.00) scale(1.0,1)" font-family="Liberation Serif, serif" font-size="31" font-weight="normal" font-style="normal" fill="#000">4</text>
<text transform="translate(709.50,939.70) scale(1.12,1)" font-family="Liberation Serif, serif" font-size="45" font-weight="bold" font-style="italic" fill="#000">μ</text>
<path d="M757,907.4 L751.3,907.4 L751.3,948.3 L757,948.3" fill="none" stroke="#000" stroke-width="2.8"/>
<text transform="translate(758.90,939.70) scale(1.168,1)" font-family="Liberation Serif, serif" font-size="45" font-weight="bold" font-style="italic" fill="#000">eV</text>
<path d="M824,907.4 L829.3,907.4 L829.3,948.3 L824,948.3" fill="none" stroke="#000" stroke-width="2.8"/>
<text transform="translate(35.30,560.90) rotate(-90) scale(1.05,1)" font-family="Liberation Serif, serif" font-size="41" font-weight="bold" font-style="italic" fill="#000">Q</text>
<path d="M6.6,502.4 L6.6,508.3 L44.6,508.3 L44.6,502.4" fill="none" stroke="#000" stroke-width="2.4"/>
<text transform="translate(35.30,502.40) rotate(-90) scale(1.23,1)" font-family="Liberation Serif, serif" font-size="41" font-weight="bold" font-style="italic" fill="#000">W</text>
<path d="M7.6,438.6 L43.6,454.4" fill="none" stroke="#000" stroke-width="2.6"/>
<text transform="translate(35.30,435.30) rotate(-90) scale(1.45,1)" font-family="Liberation Serif, serif" font-size="37" font-weight="bold" font-style="italic" fill="#000">m</text>
<text transform="translate(18.50,394.80) rotate(-90) scale(1.25,1)" font-family="Liberation Serif, serif" font-size="27" font-weight="bold" font-style="normal" fill="#000">2</text>
<path d="M6.6,374.5 L6.6,369.2 L44.6,369.2 L44.6,374.5" fill="none" stroke="#000" stroke-width="2.4"/>
</svg></body></html>
